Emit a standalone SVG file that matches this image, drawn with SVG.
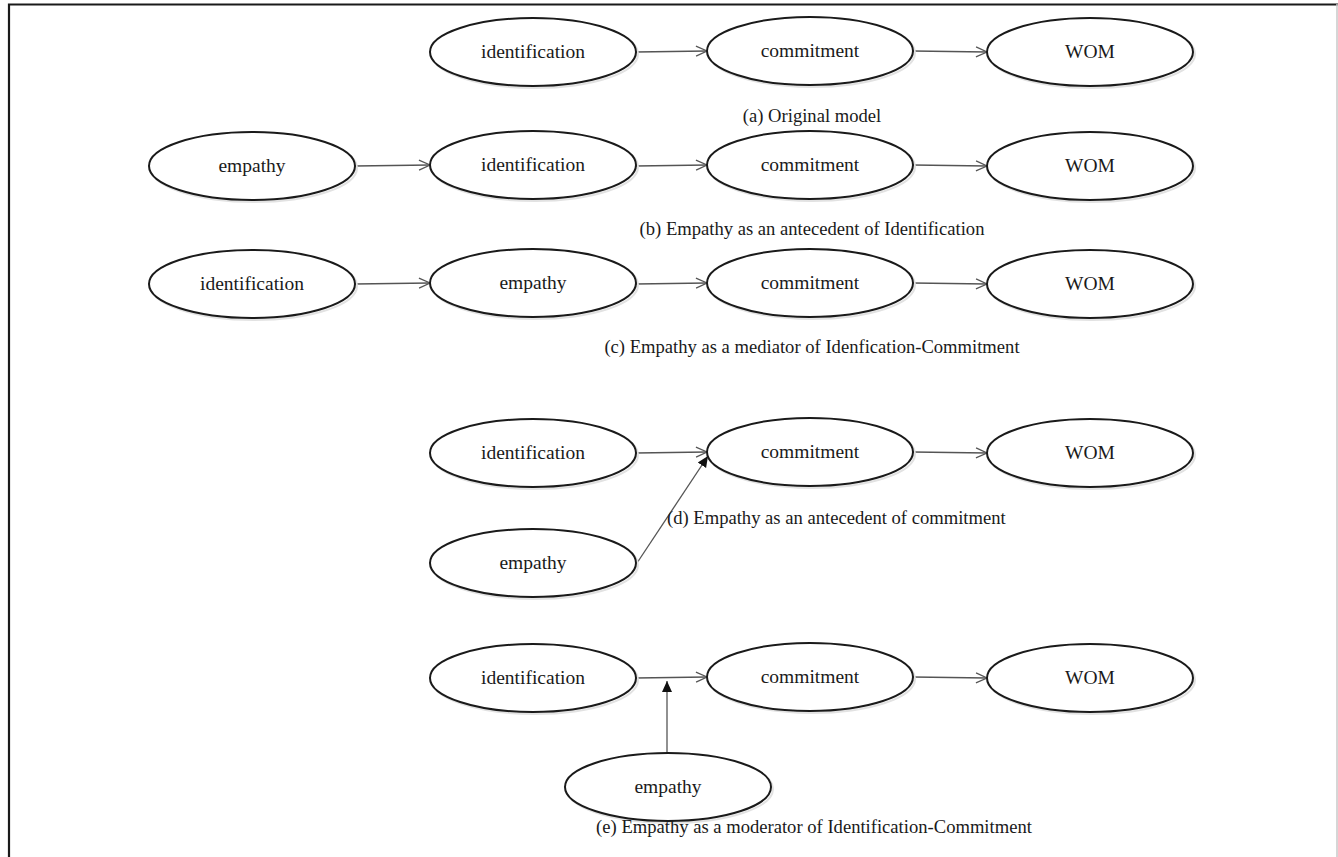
<svg xmlns="http://www.w3.org/2000/svg" width="1338" height="857" viewBox="0 0 1338 857">
<style>
.n ellipse.s{fill:none;stroke:#e2e2e2;stroke-width:2}
.n ellipse.m{fill:#fff;stroke:#1a1a1a;stroke-width:2}
.n text{font-family:"Liberation Serif","Times New Roman",serif;font-size:19.5px;fill:#1a1a1a;text-anchor:middle}
.cap{font-family:"Liberation Serif","Times New Roman",serif;font-size:18.6px;fill:#1a1a1a}
.e{stroke:#555;stroke-width:1.3;fill:none}
</style>
<defs>
<marker id="open" markerWidth="14" markerHeight="12" refX="12" refY="6" orient="auto" markerUnits="userSpaceOnUse">
<path d="M1,1 L12,6 L1,11" fill="none" stroke="#555" stroke-width="1.3"/>
</marker>
<marker id="solid" markerWidth="12" markerHeight="12" refX="11" refY="6" orient="auto" markerUnits="userSpaceOnUse">
<path d="M0,1 L11,6 L0,11 Z" fill="#111"/>
</marker>
</defs>
<rect width="1338" height="857" fill="#fff"/>
<path d="M9,857 V4.5 H1338" fill="none" stroke="#1a1a1a" stroke-width="2.2"/>
<path d="M1337,4 V857" stroke="#c8c8c8" stroke-width="1.5"/>

<g id="connectors">
<line class="e" x1="636" y1="52" x2="707" y2="51" marker-end="url(#open)"/>
<line class="e" x1="913" y1="51" x2="987" y2="52" marker-end="url(#open)"/>
<line class="e" x1="355" y1="166" x2="430" y2="165" marker-end="url(#open)"/>
<line class="e" x1="636" y1="166" x2="707" y2="165" marker-end="url(#open)"/>
<line class="e" x1="913" y1="165" x2="987" y2="166" marker-end="url(#open)"/>
<line class="e" x1="355" y1="284" x2="430" y2="283" marker-end="url(#open)"/>
<line class="e" x1="636" y1="284" x2="707" y2="283" marker-end="url(#open)"/>
<line class="e" x1="913" y1="283" x2="987" y2="284" marker-end="url(#open)"/>
<line class="e" x1="636" y1="453" x2="707" y2="452" marker-end="url(#open)"/>
<line class="e" x1="913" y1="452" x2="987" y2="453" marker-end="url(#open)"/>
<line class="e" x1="637" y1="563" x2="708" y2="456" marker-end="url(#solid)"/>
<line class="e" x1="636" y1="678" x2="707" y2="677" marker-end="url(#open)"/>
<line class="e" x1="913" y1="677" x2="987" y2="678" marker-end="url(#open)"/>
<line class="e" x1="667" y1="753" x2="667" y2="681" marker-end="url(#solid)"/>
</g>

<g id="a-identification" class="n"><ellipse class="s" cx="535" cy="54" rx="103" ry="34"/><ellipse class="m" cx="533" cy="52" rx="103" ry="34"/><text x="533" y="58">identification</text></g>
<g id="a-commitment" class="n"><ellipse class="s" cx="812" cy="53" rx="103" ry="34"/><ellipse class="m" cx="810" cy="51" rx="103" ry="34"/><text x="810" y="57">commitment</text></g>
<g id="a-wom" class="n"><ellipse class="s" cx="1092" cy="54" rx="103" ry="34"/><ellipse class="m" cx="1090" cy="52" rx="103" ry="34"/><text x="1090" y="58">WOM</text></g>
<text class="cap" x="812" y="122" text-anchor="middle">(a) Original  model</text>

<g id="b-empathy" class="n"><ellipse class="s" cx="254" cy="168" rx="103" ry="34"/><ellipse class="m" cx="252" cy="166" rx="103" ry="34"/><text x="252" y="172">empathy</text></g>
<g id="b-identification" class="n"><ellipse class="s" cx="535" cy="167" rx="103" ry="34"/><ellipse class="m" cx="533" cy="165" rx="103" ry="34"/><text x="533" y="171">identification</text></g>
<g id="b-commitment" class="n"><ellipse class="s" cx="812" cy="167" rx="103" ry="34"/><ellipse class="m" cx="810" cy="165" rx="103" ry="34"/><text x="810" y="171">commitment</text></g>
<g id="b-wom" class="n"><ellipse class="s" cx="1092" cy="168" rx="103" ry="34"/><ellipse class="m" cx="1090" cy="166" rx="103" ry="34"/><text x="1090" y="172">WOM</text></g>
<text class="cap" x="812" y="235" text-anchor="middle">(b) Empathy as an antecedent of Identification</text>

<g id="c-identification" class="n"><ellipse class="s" cx="254" cy="286" rx="103" ry="34"/><ellipse class="m" cx="252" cy="284" rx="103" ry="34"/><text x="252" y="290">identification</text></g>
<g id="c-empathy" class="n"><ellipse class="s" cx="535" cy="285" rx="103" ry="34"/><ellipse class="m" cx="533" cy="283" rx="103" ry="34"/><text x="533" y="289">empathy</text></g>
<g id="c-commitment" class="n"><ellipse class="s" cx="812" cy="285" rx="103" ry="34"/><ellipse class="m" cx="810" cy="283" rx="103" ry="34"/><text x="810" y="289">commitment</text></g>
<g id="c-wom" class="n"><ellipse class="s" cx="1092" cy="286" rx="103" ry="34"/><ellipse class="m" cx="1090" cy="284" rx="103" ry="34"/><text x="1090" y="290">WOM</text></g>
<text class="cap" x="812" y="353" text-anchor="middle">(c) Empathy as a mediator of Idenfication-Commitment</text>

<g id="d-identification" class="n"><ellipse class="s" cx="535" cy="455" rx="103" ry="34"/><ellipse class="m" cx="533" cy="453" rx="103" ry="34"/><text x="533" y="459">identification</text></g>
<g id="d-commitment" class="n"><ellipse class="s" cx="812" cy="454" rx="103" ry="34"/><ellipse class="m" cx="810" cy="452" rx="103" ry="34"/><text x="810" y="458">commitment</text></g>
<g id="d-wom" class="n"><ellipse class="s" cx="1092" cy="455" rx="103" ry="34"/><ellipse class="m" cx="1090" cy="453" rx="103" ry="34"/><text x="1090" y="459">WOM</text></g>
<g id="d-empathy" class="n"><ellipse class="s" cx="535" cy="565" rx="103" ry="34"/><ellipse class="m" cx="533" cy="563" rx="103" ry="34"/><text x="533" y="569">empathy</text></g>
<text class="cap" x="667" y="524">(d) Empathy as an antecedent of commitment</text>

<g id="e-identification" class="n"><ellipse class="s" cx="535" cy="680" rx="103" ry="34"/><ellipse class="m" cx="533" cy="678" rx="103" ry="34"/><text x="533" y="684">identification</text></g>
<g id="e-commitment" class="n"><ellipse class="s" cx="812" cy="679" rx="103" ry="34"/><ellipse class="m" cx="810" cy="677" rx="103" ry="34"/><text x="810" y="683">commitment</text></g>
<g id="e-wom" class="n"><ellipse class="s" cx="1092" cy="680" rx="103" ry="34"/><ellipse class="m" cx="1090" cy="678" rx="103" ry="34"/><text x="1090" y="684">WOM</text></g>
<g id="e-empathy" class="n"><ellipse class="s" cx="670" cy="789" rx="103" ry="34"/><ellipse class="m" cx="668" cy="787" rx="103" ry="34"/><text x="668" y="793">empathy</text></g>
<text class="cap" x="814" y="833" text-anchor="middle">(e) Empathy as a moderator of Identification-Commitment</text>
</svg>
